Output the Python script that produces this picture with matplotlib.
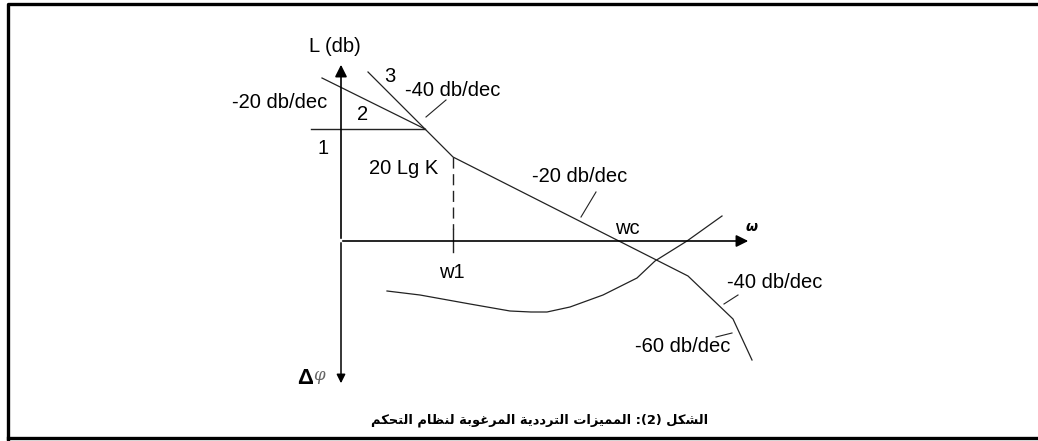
import matplotlib
matplotlib.use('Agg')
import matplotlib.pyplot as plt

# L(w) asymptotes, phase margin curve and labels, origin at the axes crossing
mag_x = [27, 112, 347, 392, 411]
mag_y = [169, 84, -35, -78, -119]
low_x = [-19, 84]
low_y = [163, 112]
gain_x = [-30, 84]
gain_y = [112, 112]
phase_x = [46, 79, 129, 169, 190, 206, 229, 262, 296, 314, 346, 381]
phase_y = [-50, -54, -63, -70, -71, -71, -66, -54, -37, -20, 0, 25]
w1 = 112
leaders = [((85, 105), (124, 141)), ((240, 255), (24, 49)),
           ((383, 397), (-63, -54)), ((375, 391), (-96, -92))]

labels = [
    ('L (db)', -6, 195), ('3', 49, 164), ('-40 db/dec', 112, 151),
    ('-20 db/dec', -61, 138), ('2', 22, 126), ('1', -18, 93),
    ('20 Lg K', 63, 73), ('-20 db/dec', 239, 65), ('wc', 286, 12),
    ('w1', 111, -32), ('-40 db/dec', 434, -42), ('-60 db/dec', 342, -106),
]
caption = 'الشكل (2): المميزات الترددية المرغوبة لنظام التحكم'

FORMS = {
    'ا': (0xFE8D, 0xFE8E), 'ب': (0xFE8F, 0xFE90, 0xFE91, 0xFE92),
    'ة': (0xFE93, 0xFE94), 'ت': (0xFE95, 0xFE96, 0xFE97, 0xFE98),
    'ح': (0xFEA1, 0xFEA2, 0xFEA3, 0xFEA4), 'د': (0xFEA9, 0xFEAA),
    'ر': (0xFEAD, 0xFEAE), 'ز': (0xFEAF, 0xFEB0),
    'ش': (0xFEB5, 0xFEB6, 0xFEB7, 0xFEB8), 'ظ': (0xFEC5, 0xFEC6, 0xFEC7, 0xFEC8),
    'غ': (0xFECD, 0xFECE, 0xFECF, 0xFED0), 'ك': (0xFED9, 0xFEDA, 0xFEDB, 0xFEDC),
    'ل': (0xFEDD, 0xFEDE, 0xFEDF, 0xFEE0), 'م': (0xFEE1, 0xFEE2, 0xFEE3, 0xFEE4),
    'ن': (0xFEE5, 0xFEE6, 0xFEE7, 0xFEE8), 'و': (0xFEED, 0xFEEE),
    'ي': (0xFEF1, 0xFEF2, 0xFEF3, 0xFEF4),
}


def shape_rtl(s):
    # pick joined letter forms, then lay out right to left
    out = []
    for i, ch in enumerate(s):
        f = FORMS.get(ch)
        if f is None:
            out.append(ch)
            continue
        prev = s[i - 1] if i > 0 else ''
        nxt = s[i + 1] if i + 1 < len(s) else ''
        jp = prev in FORMS and len(FORMS[prev]) == 4
        jn = len(f) == 4 and nxt in FORMS
        idx = 3 if (jp and jn) else 1 if jp else 2 if jn else 0
        out.append(chr(f[idx]))
    vis = ''.join(reversed(out))
    return vis.translate(str.maketrans('()', ')('))


fig = plt.figure(figsize=(10.38, 4.41), dpi=100)
ax = fig.add_axes([0, 0, 1, 1])
ax.set_xlim(-341, 697)
ax.set_ylim(-200, 241)
ax.axis('off')

lc = '#222222'
font = 'Liberation Sans'
fs = 14.5

# frame
ax.plot([710, -333, -333], [237, 237, -198], color='k', lw=2.4, clip_on=False)
ax.plot([-333, 710], [-197, -197], color='k', lw=2.4, clip_on=False)

# axes with arrows
ax.annotate('', xy=(0, 179), xytext=(0, 0),
            arrowprops=dict(arrowstyle='-|>', color='k', lw=1.2, mutation_scale=18))
ax.annotate('', xy=(0, -145), xytext=(0, 1),
            arrowprops=dict(arrowstyle='-|>', color='k', lw=1.1, mutation_scale=13))
ax.annotate('', xy=(410, 0), xytext=(-1, 0),
            arrowprops=dict(arrowstyle='-|>', color='k', lw=1.2, mutation_scale=18))

ax.plot(mag_x, mag_y, color=lc, lw=0.9)
ax.plot(low_x, low_y, color=lc, lw=0.9)
ax.plot(gain_x, gain_y, color=lc, lw=1.0)
ax.plot(phase_x, phase_y, color=lc, lw=0.9)
ax.plot([w1, w1], [84, 12], color=lc, lw=1.0, dashes=(8, 4))
ax.plot([w1, w1], [12, -11], color=lc, lw=1.0)
for lx, ly in leaders:
    ax.plot(lx, ly, color=lc, lw=0.8)

for txt, x, y in labels:
    ax.text(x, y, txt, fontsize=fs, family=font, ha='center', va='center')

ax.text(411, 14, 'ω', fontsize=10, family='DejaVu Sans', fontweight='bold',
        style='italic', ha='center', va='center')
ax.text(-36, -137, 'Δ', fontsize=16, family=font, fontweight='bold',
        ha='center', va='center')
ax.text(-22, -135, 'φ', fontsize=12, family='DejaVu Serif', style='italic',
        color='#666666', ha='center', va='center')

ax.text(199, -179, shape_rtl(caption), fontsize=9.4, family='DejaVu Sans',
        fontweight='bold', ha='center', va='center')

fig.savefig('out.png', dpi=100)
